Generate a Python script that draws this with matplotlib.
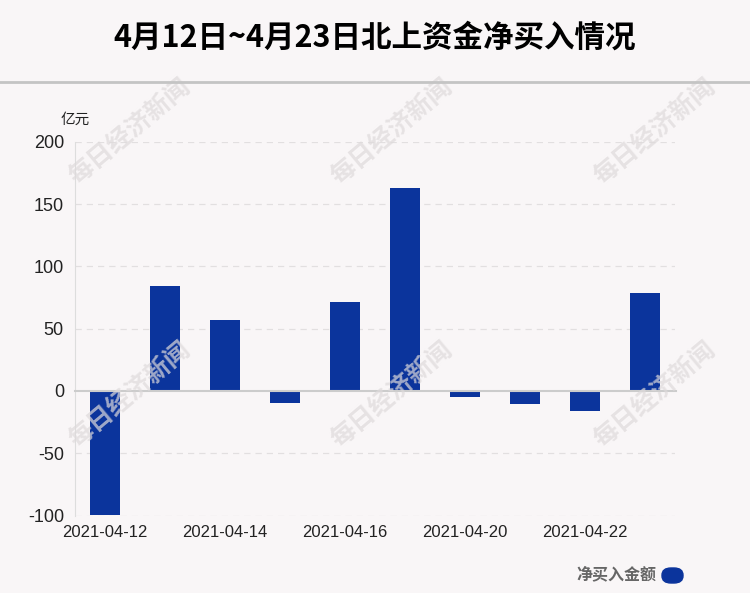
import matplotlib.pyplot as plt
import matplotlib.patches as patches
import numpy as np

plt.rcParams['font.family'] = ['Liberation Sans', 'Noto Sans CJK SC', 'DejaVu Sans']

dates = ['2021-04-12', '2021-04-13', '2021-04-14', '2021-04-15', '2021-04-16',
         '2021-04-19', '2021-04-20', '2021-04-21', '2021-04-22', '2021-04-23']
net_buy = [-99.8, 84.3, 57.0, -9.5, 71.5, 162.7, -4.8, -10.4, -16.0, 78.6]
yticks = [-100, -50, 0, 50, 100, 150, 200]

bg = '#f9f6f7'
bar_color = '#0b349c'

fig = plt.figure(figsize=(7.5, 5.93), dpi=100, facecolor=bg)
ax = fig.add_axes([75 / 750, 1 - 515.5 / 593, 600 / 750, (515.5 - 142) / 593])
ax.set_facecolor(bg)

x = np.arange(len(dates))
ax.bar(x, net_buy, width=0.5, color=bar_color, zorder=3)

ax.set_xlim(-0.5, len(dates) - 0.5)
ax.set_ylim(-100, 200)
ax.set_yticks(yticks)
ax.set_yticklabels([str(v) for v in yticks], fontsize=13)
ax.set_xticks(x[::2])
ax.set_xticklabels(dates[::2], fontsize=12)
ax.tick_params(length=0, colors='#222222')
ax.tick_params(axis='x', pad=7)
ax.tick_params(axis='y', pad=8)

for v in yticks:
    if v != 0:
        ax.axhline(v, color='#e2dfe0', lw=0.9, ls=(0, (5, 4)), zorder=1)
ax.axhline(0, color='#cccccc', lw=1.5, zorder=4, xmax=1.002, clip_on=False)

for s in ['top', 'right', 'bottom']:
    ax.spines[s].set_visible(False)
ax.spines['left'].set_color('#dddddd')

# title and separator
fig.text(0.5, 1 - 38 / 593, '4月12日~4月23日北上资金净买入情况', ha='center', va='center',
         fontsize=22, fontweight='bold', family=['Noto Sans CJK SC', 'DejaVu Sans'])
fig.add_artist(plt.Line2D([0, 1], [1 - 82 / 593] * 2, color='#c4c4c4', lw=2))

fig.text(75 / 750, 1 - 120 / 593, '亿元', ha='center', va='center', fontsize=10.5,
         family=['Noto Sans CJK SC'], color='#222222')

# watermarks
for wx in [130, 392, 655]:
    for wy in [132, 395]:
        fig.text(wx / 750, 1 - wy / 593, '每日经济新闻', ha='center', va='center',
                 rotation=40, fontsize=18, fontweight='bold', color='#dedadb', alpha=0.7,
                 family=['Noto Sans CJK SC'], zorder=0)

# legend
fig.text(656 / 750, 1 - 574 / 593, '净买入金额', ha='right', va='center', fontsize=11.5,
         fontweight='bold', color='#666666', family=['Noto Sans CJK SC'])
fig.add_artist(patches.FancyBboxPatch((662 / 750, 1 - 583 / 593), 21 / 750, 15 / 593,
                                      boxstyle='round,pad=0,rounding_size=0.012',
                                      transform=fig.transFigure, color=bar_color))

plt.savefig('out.png', dpi=100, facecolor=bg)
